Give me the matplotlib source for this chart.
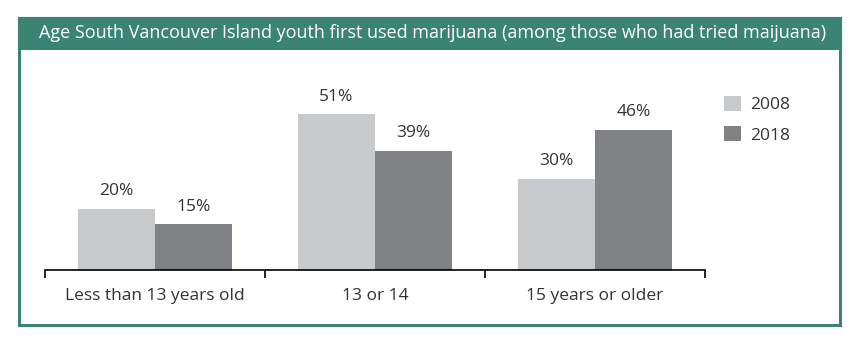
import matplotlib
matplotlib.use("Agg")
import matplotlib.pyplot as plt
from matplotlib.patches import Rectangle
import numpy as np

# data
categories = ["Less than 13 years old", "13 or 14", "15 years or older"]
years = ["2008", "2018"]
values_2008 = [20, 51, 30]
values_2018 = [15, 39, 46]

TITLE = "Age South Vancouver Island youth first used marijuana (among those who had tried maijuana)"
GREEN = "#3b8474"
COLORS = ["#c8c9cb", "#808184"]
TEXT = "#333333"

plt.rcParams["font.family"] = ["Open Sans", "DejaVu Sans"]

W, H = 856, 341
fig = plt.figure(figsize=(W / 100, H / 100), dpi=100)

# outer frame + title band (figure pixel coords -> fractions)
def fx(px):
    return px / W

def fy(py):
    return 1 - py / H

frame = Rectangle((fx(19), fy(325)), fx(840) - fx(19), fy(18) - fy(325),
                  transform=fig.transFigure, fill=False, edgecolor=GREEN, linewidth=2.2)
band = Rectangle((fx(19), fy(48)), fx(840) - fx(19), fy(18) - fy(48),
                 transform=fig.transFigure, facecolor=GREEN, edgecolor=GREEN, linewidth=2.2)
fig.patches.extend([frame, band])
fig.text(fx(433), fy(33), TITLE, color="white", fontsize=13, ha="center", va="center")

# axes: x from 45 to 705 px, baseline at y=270
ax = fig.add_axes([fx(45), fy(270), fx(705) - fx(45), fy(60) - fy(270)])
x = np.arange(len(categories))
bw = 0.352
b1 = ax.bar(x - bw / 2, values_2008, bw, color=COLORS[0], label=years[0])
b2 = ax.bar(x + bw / 2, values_2018, bw, color=COLORS[1], label=years[1])

for bars, vals in [(b1, values_2008), (b2, values_2018)]:
    for bar, v in zip(bars, vals):
        ax.annotate(f"{v}%", (bar.get_x() + bar.get_width() / 2, v),
                    xytext=(0, 7), textcoords="offset points",
                    ha="center", va="bottom", fontsize=12.5, color=TEXT)

ax.set_xlim(-0.5, 2.5)
ax.set_ylim(0, (270 - 60) / 3.05)
ax.set_xticks(x)
ax.set_xticklabels(categories, fontsize=12.5, color=TEXT)
ax.set_xticks([-0.5, 0.5, 1.5, 2.5], minor=True)
ax.tick_params(axis="x", which="major", length=0, pad=13)
ax.tick_params(axis="x", which="minor", length=6, width=1.2, direction="out", color="black")
ax.set_yticks([])
for s in ["top", "right", "left"]:
    ax.spines[s].set_visible(False)
ax.spines["bottom"].set_linewidth(1.2)
ax.patch.set_alpha(0)

fig.legend(handles=[b1, b2], labels=years, loc="upper left",
           bbox_to_anchor=(fx(708), fy(80)), frameon=False, fontsize=12.5,
           handlelength=1.0, handleheight=1.0, handletextpad=0.5,
           labelspacing=0.72, labelcolor=TEXT)

fig.savefig("out.png", dpi=100)
